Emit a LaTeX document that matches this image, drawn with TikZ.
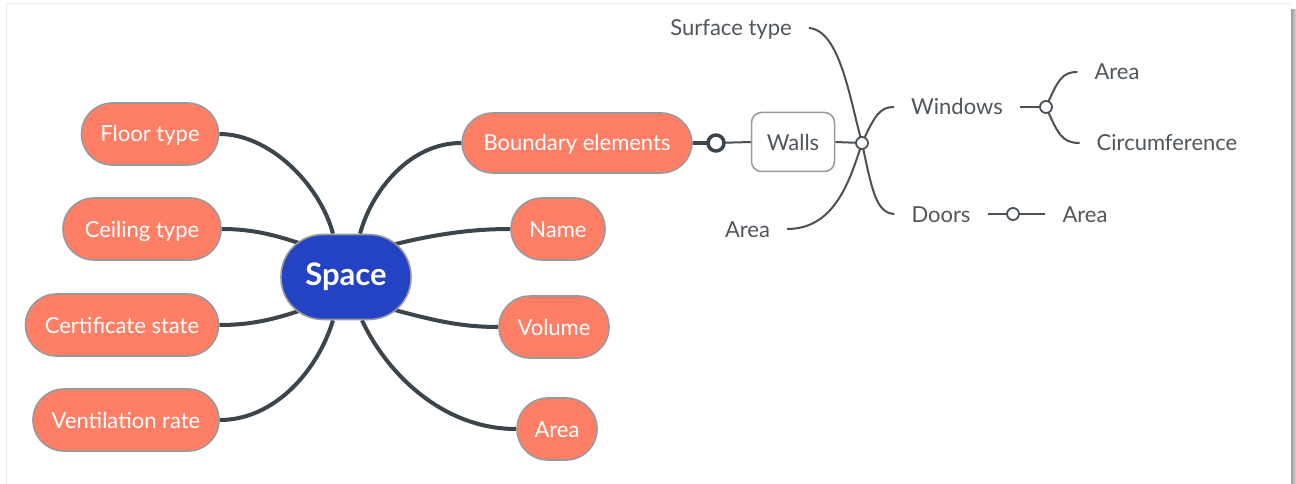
\documentclass[tikz,border=0pt]{standalone}
\usepackage{fontspec}
\setmainfont{Lato}
\usetikzlibrary{backgrounds}
\definecolor{salmon}{HTML}{FF7F66}
\definecolor{spaceblue}{HTML}{2443C4}
\definecolor{bordergray}{HTML}{999999}
\definecolor{conndark}{HTML}{3C454B}
\definecolor{thinline}{HTML}{4A5157}
\definecolor{lblgray}{HTML}{50565B}
\begin{document}
\begin{tikzpicture}[x=1pt,y=-1pt,
  pill/.style={draw=bordergray, line width=1.6pt, fill=salmon, rounded corners=31pt,
    minimum height=62pt, text=white, font=\fontsize{22}{22}\selectfont, inner sep=0pt,
    text height=18pt, text depth=2pt},
  lbl/.style={text=lblgray, font=\fontsize{22}{22}\selectfont, inner xsep=17pt, inner ysep=0pt,
    text height=18pt, text depth=2pt},
  conn/.style={draw=conndark, line width=4pt},
  thinconn/.style={draw=thinline, line width=2pt},
  junction/.style={circle, draw=thinline, line width=1.8pt, fill=white, minimum size=12pt, inner sep=0pt},
  bigjunction/.style={circle, draw=conndark, line width=3.5pt, fill=white, minimum size=16pt, inner sep=0pt}
]
\useasboundingbox (0,0) rectangle (1296,484);

% main nodes
\node[draw=bordergray, line width=1.6pt, fill=spaceblue, rounded corners=42pt,
  minimum width=130pt, minimum height=85pt, text=white, inner sep=0pt,
  text height=24pt, text depth=8pt,
  font=\fontsize{31}{31}\bfseries\selectfont] (sp) at (346,277) {Space};
\node[pill, minimum width=137pt] (fl) at (150,134) {Floor type};
\node[pill, minimum width=158pt] (ce) at (142,229) {Ceiling type};
\node[pill, minimum width=193pt] (cs) at (122,325) {Certificate state};
\node[pill, minimum width=186pt] (vr) at (126,420) {Ventilation rate};
\node[pill, minimum width=230pt, minimum height=60pt] (be) at (577,143) {Boundary elements};
\node[pill, minimum width=94pt] (nm) at (558,229) {Name};
\node[pill, minimum width=110pt] (vo) at (554,327) {Volume};
\node[pill, minimum width=80pt] (ar) at (557,429) {Area};

% walls branch
\node[bigjunction] (bj) at (716,143) {};
\node[draw=bordergray, line width=1.5pt, fill=white, rounded corners=10pt,
  minimum width=83pt, minimum height=59pt, inner sep=0pt, text=lblgray,
  font=\fontsize{22}{22}\selectfont, text height=18pt, text depth=2pt] (wa) at (793,142) {Walls};
\node[junction] (wj) at (862,143) {};
\node[lbl] (st) at (731,28) {Surface type};
\node[lbl] (la) at (747.5,229) {Area};
\node[lbl] (wi) at (957,107) {Windows};
\node[lbl] (dr) at (941,214) {Doors};
\node[junction] (wij) at (1046,107) {};
\node[lbl] (a1) at (1117,72) {Area};
\node[lbl] (ci) at (1167,143) {Circumference};
\node[junction] (dj) at (1013,214) {};
\node[lbl] (a2) at (1085,214) {Area};

\begin{pgfonlayer}{background}
% frame
\fill[white] (0,0) rectangle (1296,484);
\draw[gray!15, line width=1pt] (6,484) -- (6,4) -- (1291,4);
\shade[left color=gray!75, right color=gray!35] (1291,10) rectangle (1296,484);
% connectors
\draw[conn] (fl.east) .. controls (270,134) and (320,185) .. ([xshift=-13pt]sp.north);
\draw[conn] (ce.east) .. controls (255,229) and (280,236) .. ([xshift=-30pt,yshift=28pt]sp.center);
\draw[conn] (cs.east) .. controls (255,325) and (280,318) .. ([xshift=-30pt,yshift=-28pt]sp.center);
\draw[conn] (vr.east) .. controls (275,420) and (318,370) .. ([xshift=-13pt]sp.south);
\draw[conn] (be.west) .. controls (410,143) and (372,190) .. ([xshift=14pt]sp.north);
\draw[conn] (nm.west) .. controls (465,229) and (425,236) .. ([xshift=30pt,yshift=28pt]sp.center);
\draw[conn] (vo.west) .. controls (455,327) and (425,318) .. ([xshift=30pt,yshift=-28pt]sp.center);
\draw[conn] (ar.west) .. controls (440,429) and (385,370) .. ([xshift=16pt]sp.south);
\draw[conn] (be.east) -- (bj.center);
\draw[thinconn] (bj.center) -- (wa.west);
\draw[thinconn] (wa.east) -- (wj.center);
\draw[thinconn] (st.east) .. controls (840,30) and (850,100) .. (wj.center);
\draw[thinconn] (la.east) .. controls (835,229) and (850,180) .. (wj.center);
\draw[thinconn] (wj.center) .. controls (875,115) and (880,107) .. (wi.west);
\draw[thinconn] (wj.center) .. controls (872,190) and (876,213) .. (dr.west);
\draw[thinconn] (wi.east) -- (wij.center);
\draw[thinconn] (wij.center) .. controls (1058,80) and (1062,72) .. (a1.west);
\draw[thinconn] (wij.center) .. controls (1058,134) and (1062,143) .. (ci.west);
\draw[thinconn] (dr.east) -- (a2.west);
\end{pgfonlayer}
\end{tikzpicture}
\end{document}
